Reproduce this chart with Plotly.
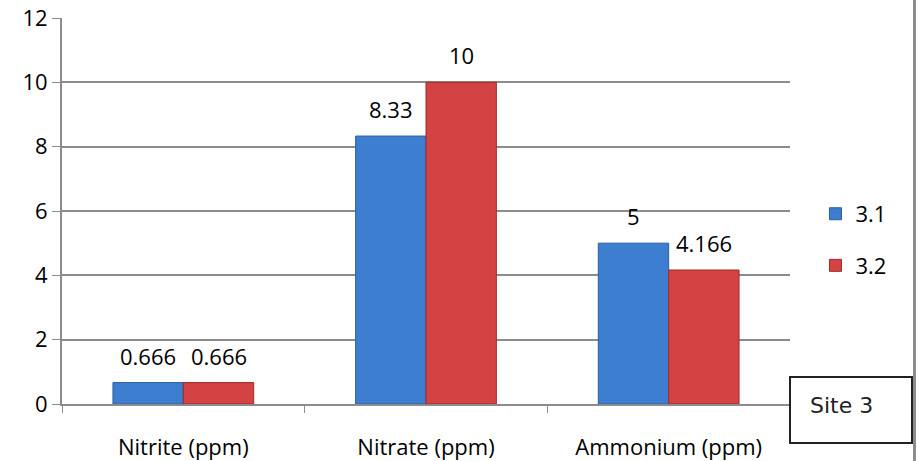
import plotly.graph_objects as go

categories = ["Nitrite (ppm)", "Nitrate (ppm)", "Ammonium (ppm)"]
series_31 = [0.666, 8.33, 5]
series_32 = [0.666, 10, 4.166]
labels_31 = ["0.666", "8.33", "5"]
labels_32 = ["0.666", "10", "4.166"]
y_ticks = [0, 2, 4, 6, 8, 10, 12]

FONT = "'Open Sans', Lato, sans-serif"
FS = 22
BARGAP = 0.42

fig = go.Figure()
fig.add_trace(go.Bar(
    x=categories, y=series_31, name="3.1", legendgroup="a",
    marker=dict(color="#3d7ed0", line=dict(color="#2a5f9e", width=1)),
))
fig.add_trace(go.Bar(
    x=categories, y=series_32, name="3.2", legendgroup="b",
    marker=dict(color="#d44343", line=dict(color="#9e2b2b", width=1)),
))

# data labels placed above each bar (grouped offsets derived from bargap)
half = (1 - BARGAP) / 4
annotations = []
for i, (v, t) in enumerate(zip(series_31, labels_31)):
    annotations.append(dict(x=i - half, y=v, xref="x", yref="y", text=t,
                            showarrow=False, yanchor="middle", yshift=27,
                            font=dict(size=FS, family=FONT, color="#000")))
for i, (v, t) in enumerate(zip(series_32, labels_32)):
    annotations.append(dict(x=i + half, y=v, xref="x", yref="y", text=t,
                            showarrow=False, yanchor="middle", yshift=27,
                            font=dict(size=FS, family=FONT, color="#000")))

annotations.append(dict(text="Site 3", xref="paper", yref="paper",
                        x=(841 - 62) / 728, y=(404 - 405) / 386,
                        showarrow=False, xanchor="center", yanchor="middle",
                        font=dict(family="'DejaVu Sans', sans-serif", size=22,
                                  color="#222222")))

fig.update_layout(
    width=918, height=461,
    margin=dict(l=62, r=128, t=18, b=57, autoexpand=False),
    paper_bgcolor="white", plot_bgcolor="white",
    barmode="group", bargap=BARGAP, bargroupgap=0,
    font=dict(family=FONT, size=FS, color="#000000"),
    showlegend=True,
    legend=dict(x=1.035, xanchor="left", y=0.425, yanchor="middle",
                font=dict(size=FS, family=FONT), traceorder="grouped",
                tracegroupgap=20, itemwidth=30, bgcolor="rgba(0,0,0,0)"),
    xaxis=dict(showline=True, linecolor="#8c8c8c", linewidth=2,
               ticks="outside", ticklen=7, tickcolor="#8c8c8c", tickwidth=1,
               tickson="boundaries", showgrid=False, ticklabelstandoff=23,
               automargin=False, tickfont=dict(size=FS, family=FONT)),
    yaxis=dict(range=[0, 12], tickvals=y_ticks, showline=True,
               linecolor="#8c8c8c", linewidth=2, automargin=False,
               ticks="outside", ticklen=8, tickcolor="#8c8c8c",
               showgrid=True, gridcolor="#8c8c8c", gridwidth=2,
               zeroline=False, tickfont=dict(size=FS, family=FONT)),
    shapes=[
        dict(type="line", xref="paper", yref="paper",
             x0=(914.5 - 62) / 728, x1=(914.5 - 62) / 728,
             y0=-57 / 386, y1=1 + 18 / 386,
             line=dict(color="#8c8c8c", width=3)),
        dict(type="rect", xref="paper", yref="paper",
             x0=(790 - 62) / 728, x1=(912 - 62) / 728,
             y0=(404 - 443) / 386, y1=(404 - 377) / 386,
             line=dict(color="#222222", width=2), fillcolor="white"),
    ],
    annotations=annotations,
)

fig.write_html("out.html")
